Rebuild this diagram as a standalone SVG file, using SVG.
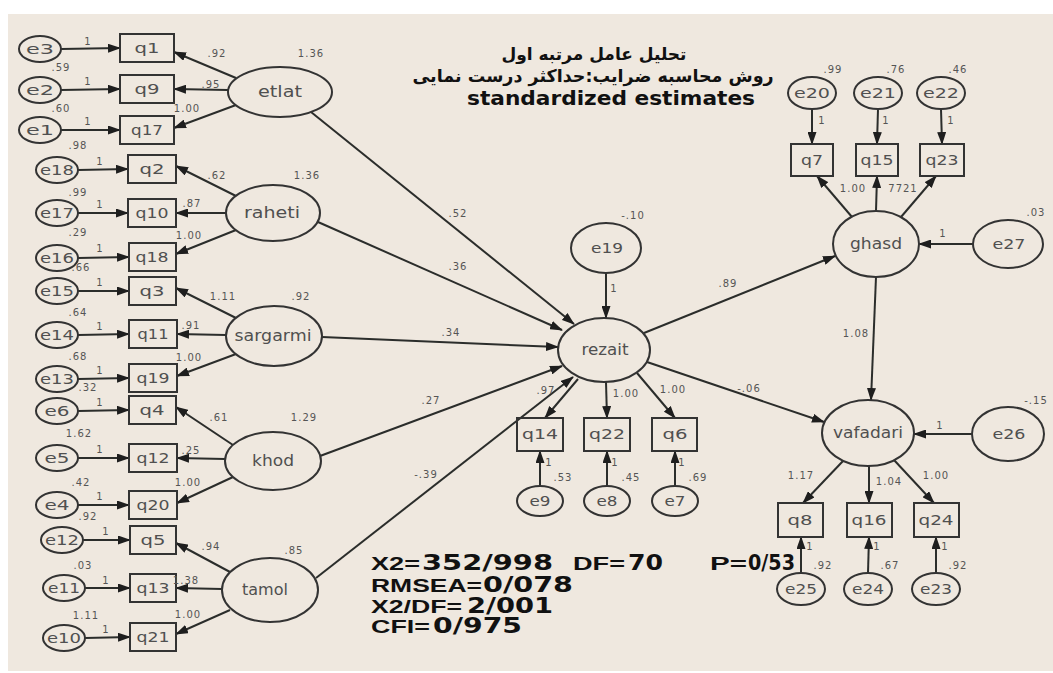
<svg xmlns="http://www.w3.org/2000/svg" width="1053" height="673" viewBox="0 0 1053 673">
<style>
.bg{fill:#efe8df}
.n{fill:none;stroke:#333;stroke-width:2}
.c{fill:none;stroke:#2b2d2b;stroke-width:2;marker-end:url(#a)}
.t{font-family:"DejaVu Sans","Liberation Sans",sans-serif;font-size:14px;fill:#505050;text-anchor:middle}
.lt{font-size:15px}
.l{font-family:"DejaVu Sans","Liberation Sans",sans-serif;font-size:10px;fill:#555;text-anchor:middle;letter-spacing:1px}
.h{font-family:"DejaVu Sans","Liberation Sans",sans-serif;font-weight:bold;fill:#111}
.s{font-family:"Liberation Sans","DejaVu Sans",sans-serif;font-weight:bold;fill:#111;font-size:19px}
.d{font-family:"DejaVu Sans","Liberation Sans",sans-serif;font-weight:bold;fill:#111;font-size:21px}
</style>
<defs>
<marker id="a" markerWidth="13" markerHeight="9" refX="12" refY="4.5" orient="auto" markerUnits="userSpaceOnUse"><path d="M0,0L13,4.5L0,9z" fill="#1e1e1e"/></marker>
</defs>
<rect class="bg" x="8" y="14" width="1045" height="657"/>

<g id="connectors">
<line class="c" x1="61" y1="49" x2="120" y2="48"/>
<line class="c" x1="61" y1="90" x2="120" y2="89"/>
<line class="c" x1="61" y1="130" x2="120" y2="130"/>
<line class="c" x1="78" y1="170" x2="128" y2="169"/>
<line class="c" x1="78" y1="213" x2="128" y2="213"/>
<line class="c" x1="78" y1="258" x2="129" y2="257"/>
<line class="c" x1="78" y1="291" x2="129" y2="291"/>
<line class="c" x1="78" y1="335" x2="129" y2="334"/>
<line class="c" x1="78" y1="379" x2="129" y2="378"/>
<line class="c" x1="78" y1="411" x2="129" y2="410"/>
<line class="c" x1="78" y1="458" x2="129" y2="458"/>
<line class="c" x1="78" y1="505" x2="129" y2="505"/>
<line class="c" x1="83" y1="540" x2="130" y2="540"/>
<line class="c" x1="85" y1="588" x2="130" y2="588"/>
<line class="c" x1="85" y1="638" x2="130" y2="637"/>
<line class="c" x1="236" y1="78" x2="174" y2="52"/>
<line class="c" x1="228" y1="90" x2="174" y2="89"/>
<line class="c" x1="236" y1="105" x2="174" y2="128"/>
<line class="c" x1="236" y1="196" x2="176" y2="166"/>
<line class="c" x1="226" y1="213" x2="176" y2="213"/>
<line class="c" x1="236" y1="230" x2="176" y2="254"/>
<line class="c" x1="236" y1="318" x2="176" y2="288"/>
<line class="c" x1="226" y1="335" x2="177" y2="334"/>
<line class="c" x1="236" y1="354" x2="177" y2="376"/>
<line class="c" x1="233" y1="445" x2="176" y2="407"/>
<line class="c" x1="225" y1="459" x2="177" y2="458"/>
<line class="c" x1="233" y1="477" x2="177" y2="503"/>
<line class="c" x1="230" y1="572" x2="176" y2="543"/>
<line class="c" x1="222" y1="589" x2="176" y2="588"/>
<line class="c" x1="230" y1="610" x2="176" y2="634"/>
<line class="c" x1="311" y1="112" x2="574" y2="324"/>
<line class="c" x1="318" y1="222" x2="562" y2="330"/>
<line class="c" x1="322" y1="337" x2="558" y2="347"/>
<line class="c" x1="320" y1="456" x2="562" y2="366"/>
<line class="c" x1="316" y1="578" x2="573" y2="377"/>
<line class="c" x1="606" y1="273" x2="606" y2="318"/>
<line class="c" x1="578" y1="379" x2="545" y2="418"/>
<line class="c" x1="606" y1="382" x2="607" y2="418"/>
<line class="c" x1="637" y1="373" x2="675" y2="418"/>
<line class="c" x1="540" y1="486" x2="540" y2="451"/>
<line class="c" x1="607" y1="486" x2="607" y2="451"/>
<line class="c" x1="675" y1="486" x2="675" y2="451"/>
<line class="c" x1="644" y1="333" x2="835" y2="256"/>
<line class="c" x1="647" y1="362" x2="824" y2="422"/>
<line class="c" x1="876" y1="277" x2="871" y2="400"/>
<line class="c" x1="973" y1="244" x2="919" y2="244"/>
<line class="c" x1="972" y1="434" x2="914" y2="434"/>
<line class="c" x1="852" y1="217" x2="817" y2="176"/>
<line class="c" x1="876" y1="211" x2="877" y2="176"/>
<line class="c" x1="901" y1="217" x2="936" y2="176"/>
<line class="c" x1="812" y1="109" x2="812" y2="144"/>
<line class="c" x1="878" y1="109" x2="877" y2="144"/>
<line class="c" x1="941" y1="109" x2="942" y2="144"/>
<line class="c" x1="843" y1="461" x2="803" y2="503"/>
<line class="c" x1="869" y1="466" x2="869" y2="503"/>
<line class="c" x1="894" y1="460" x2="934" y2="503"/>
<line class="c" x1="801" y1="573" x2="801" y2="537"/>
<line class="c" x1="868" y1="573" x2="869" y2="537"/>
<line class="c" x1="936" y1="573" x2="936" y2="537"/>
</g>

<g id="e3"><ellipse class="n" cx="40" cy="49" rx="21" ry="13"/><text class="t" x="40" y="54" textLength="28" lengthAdjust="spacingAndGlyphs">e3</text></g>
<g id="e2"><ellipse class="n" cx="40" cy="90" rx="21" ry="13"/><text class="t" x="40" y="95" textLength="28" lengthAdjust="spacingAndGlyphs">e2</text></g>
<g id="e1"><ellipse class="n" cx="40" cy="130" rx="21" ry="13"/><text class="t" x="40" y="135" textLength="28" lengthAdjust="spacingAndGlyphs">e1</text></g>
<g id="e18"><ellipse class="n" cx="57" cy="170" rx="21" ry="13"/><text class="t" x="57" y="175" textLength="34" lengthAdjust="spacingAndGlyphs">e18</text></g>
<g id="e17"><ellipse class="n" cx="57" cy="213" rx="21" ry="13"/><text class="t" x="57" y="218" textLength="34" lengthAdjust="spacingAndGlyphs">e17</text></g>
<g id="e16"><ellipse class="n" cx="57" cy="258" rx="21" ry="13"/><text class="t" x="57" y="263" textLength="34" lengthAdjust="spacingAndGlyphs">e16</text></g>
<g id="e15"><ellipse class="n" cx="57" cy="291" rx="21" ry="13"/><text class="t" x="57" y="296" textLength="34" lengthAdjust="spacingAndGlyphs">e15</text></g>
<g id="e14"><ellipse class="n" cx="57" cy="335" rx="21" ry="13"/><text class="t" x="57" y="340" textLength="34" lengthAdjust="spacingAndGlyphs">e14</text></g>
<g id="e13"><ellipse class="n" cx="57" cy="379" rx="21" ry="13"/><text class="t" x="57" y="384" textLength="34" lengthAdjust="spacingAndGlyphs">e13</text></g>
<g id="e6"><ellipse class="n" cx="57" cy="411" rx="21" ry="13"/><text class="t" x="57" y="416" textLength="25" lengthAdjust="spacingAndGlyphs">e6</text></g>
<g id="e5"><ellipse class="n" cx="57" cy="458" rx="21" ry="13"/><text class="t" x="57" y="463" textLength="25" lengthAdjust="spacingAndGlyphs">e5</text></g>
<g id="e4"><ellipse class="n" cx="57" cy="505" rx="21" ry="13"/><text class="t" x="57" y="510" textLength="25" lengthAdjust="spacingAndGlyphs">e4</text></g>
<g id="e12"><ellipse class="n" cx="62" cy="540" rx="21" ry="13"/><text class="t" x="62" y="545" textLength="34" lengthAdjust="spacingAndGlyphs">e12</text></g>
<g id="e11"><ellipse class="n" cx="64" cy="588" rx="21" ry="13"/><text class="t" x="64" y="593" textLength="32" lengthAdjust="spacingAndGlyphs">e11</text></g>
<g id="e10"><ellipse class="n" cx="64" cy="638" rx="21" ry="13"/><text class="t" x="64" y="643" textLength="34" lengthAdjust="spacingAndGlyphs">e10</text></g>

<g id="q1"><rect class="n" x="120" y="34" width="54" height="28"/><text class="t" x="147" y="53" textLength="25" lengthAdjust="spacingAndGlyphs">q1</text></g>
<g id="q9"><rect class="n" x="120" y="75" width="54" height="28"/><text class="t" x="147" y="94" textLength="25" lengthAdjust="spacingAndGlyphs">q9</text></g>
<g id="q17"><rect class="n" x="120" y="116" width="54" height="28"/><text class="t" x="147" y="135" textLength="32" lengthAdjust="spacingAndGlyphs">q17</text></g>
<g id="q2"><rect class="n" x="128" y="155" width="48" height="28"/><text class="t" x="152" y="174" textLength="25" lengthAdjust="spacingAndGlyphs">q2</text></g>
<g id="q10"><rect class="n" x="128" y="199" width="48" height="28"/><text class="t" x="152" y="218" textLength="33" lengthAdjust="spacingAndGlyphs">q10</text></g>
<g id="q18"><rect class="n" x="129" y="243" width="47" height="28"/><text class="t" x="152" y="262" textLength="33" lengthAdjust="spacingAndGlyphs">q18</text></g>
<g id="q3"><rect class="n" x="129" y="277" width="47" height="28"/><text class="t" x="152" y="296" textLength="25" lengthAdjust="spacingAndGlyphs">q3</text></g>
<g id="q11"><rect class="n" x="129" y="320" width="48" height="28"/><text class="t" x="153" y="339" textLength="31" lengthAdjust="spacingAndGlyphs">q11</text></g>
<g id="q19"><rect class="n" x="129" y="364" width="48" height="28"/><text class="t" x="153" y="383" textLength="33" lengthAdjust="spacingAndGlyphs">q19</text></g>
<g id="q4"><rect class="n" x="129" y="396" width="47" height="28"/><text class="t" x="152" y="415" textLength="25" lengthAdjust="spacingAndGlyphs">q4</text></g>
<g id="q12"><rect class="n" x="129" y="444" width="48" height="28"/><text class="t" x="153" y="463" textLength="33" lengthAdjust="spacingAndGlyphs">q12</text></g>
<g id="q20"><rect class="n" x="129" y="491" width="48" height="28"/><text class="t" x="153" y="510" textLength="33" lengthAdjust="spacingAndGlyphs">q20</text></g>
<g id="q5"><rect class="n" x="130" y="526" width="46" height="28"/><text class="t" x="153" y="545" textLength="25" lengthAdjust="spacingAndGlyphs">q5</text></g>
<g id="q13"><rect class="n" x="130" y="574" width="46" height="28"/><text class="t" x="153" y="593" textLength="33" lengthAdjust="spacingAndGlyphs">q13</text></g>
<g id="q21"><rect class="n" x="130" y="623" width="46" height="28"/><text class="t" x="153" y="642" textLength="33" lengthAdjust="spacingAndGlyphs">q21</text></g>

<g id="etlat"><ellipse class="n" cx="280" cy="92" rx="52" ry="25"/><text class="t lt" x="280" y="97" textLength="44" lengthAdjust="spacingAndGlyphs">etlat</text></g>
<g id="raheti"><ellipse class="n" cx="273" cy="213" rx="47" ry="28"/><text class="t lt" x="272" y="218" textLength="56" lengthAdjust="spacingAndGlyphs">raheti</text></g>
<g id="sargarmi"><ellipse class="n" cx="274" cy="336" rx="48" ry="30"/><text class="t lt" x="273" y="341" textLength="77" lengthAdjust="spacingAndGlyphs">sargarmi</text></g>
<g id="khod"><ellipse class="n" cx="273" cy="461" rx="48" ry="29"/><text class="t lt" x="273" y="466" textLength="42" lengthAdjust="spacingAndGlyphs">khod</text></g>
<g id="tamol"><ellipse class="n" cx="270" cy="590" rx="48" ry="32"/><text class="t lt" x="265" y="595" textLength="46" lengthAdjust="spacingAndGlyphs">tamol</text></g>

<g id="rezait"><ellipse class="n" cx="604" cy="350" rx="46" ry="32"/><text class="t lt" x="605" y="355" textLength="47" lengthAdjust="spacingAndGlyphs">rezait</text></g>
<g id="e19"><ellipse class="n" cx="606" cy="248" rx="35" ry="25"/><text class="t" x="607" y="253" textLength="32" lengthAdjust="spacingAndGlyphs">e19</text></g>
<g id="q14"><rect class="n" x="517" y="418" width="46" height="33"/><text class="t" x="540" y="439" textLength="36" lengthAdjust="spacingAndGlyphs">q14</text></g>
<g id="q22"><rect class="n" x="584" y="418" width="46" height="33"/><text class="t" x="607" y="439" textLength="36" lengthAdjust="spacingAndGlyphs">q22</text></g>
<g id="q6"><rect class="n" x="652" y="418" width="45" height="33"/><text class="t" x="675" y="439" textLength="25" lengthAdjust="spacingAndGlyphs">q6</text></g>
<g id="e9"><ellipse class="n" cx="540" cy="501" rx="23" ry="15"/><text class="t" x="540" y="506" textLength="21" lengthAdjust="spacingAndGlyphs">e9</text></g>
<g id="e8"><ellipse class="n" cx="607" cy="501" rx="23" ry="15"/><text class="t" x="607" y="506" textLength="21" lengthAdjust="spacingAndGlyphs">e8</text></g>
<g id="e7"><ellipse class="n" cx="675" cy="501" rx="23" ry="15"/><text class="t" x="675" y="506" textLength="21" lengthAdjust="spacingAndGlyphs">e7</text></g>

<g id="e20"><ellipse class="n" cx="812" cy="93" rx="24" ry="16"/><text class="t" x="812" y="98" textLength="36" lengthAdjust="spacingAndGlyphs">e20</text></g>
<g id="e21"><ellipse class="n" cx="878" cy="93" rx="24" ry="16"/><text class="t" x="878" y="98" textLength="36" lengthAdjust="spacingAndGlyphs">e21</text></g>
<g id="e22"><ellipse class="n" cx="941" cy="93" rx="24" ry="16"/><text class="t" x="941" y="98" textLength="36" lengthAdjust="spacingAndGlyphs">e22</text></g>
<g id="q7"><rect class="n" x="791" y="144" width="42" height="32"/><text class="t" x="812" y="165" textLength="22" lengthAdjust="spacingAndGlyphs">q7</text></g>
<g id="q15"><rect class="n" x="856" y="144" width="42" height="32"/><text class="t" x="877" y="165" textLength="33" lengthAdjust="spacingAndGlyphs">q15</text></g>
<g id="q23"><rect class="n" x="920" y="144" width="44" height="32"/><text class="t" x="942" y="165" textLength="33" lengthAdjust="spacingAndGlyphs">q23</text></g>
<g id="ghasd"><ellipse class="n" cx="876" cy="244" rx="43" ry="33"/><text class="t lt" x="876" y="249" textLength="52" lengthAdjust="spacingAndGlyphs">ghasd</text></g>
<g id="e27"><ellipse class="n" cx="1008" cy="244" rx="35" ry="24"/><text class="t" x="1009" y="249" textLength="33" lengthAdjust="spacingAndGlyphs">e27</text></g>
<g id="vafadari"><ellipse class="n" cx="868" cy="433" rx="46" ry="33"/><text class="t lt" x="868" y="438" textLength="70" lengthAdjust="spacingAndGlyphs">vafadari</text></g>
<g id="e26"><ellipse class="n" cx="1008" cy="434" rx="36" ry="27"/><text class="t" x="1009" y="439" textLength="33" lengthAdjust="spacingAndGlyphs">e26</text></g>
<g id="q8"><rect class="n" x="778" y="503" width="45" height="34"/><text class="t" x="800" y="525" textLength="25" lengthAdjust="spacingAndGlyphs">q8</text></g>
<g id="q16"><rect class="n" x="847" y="503" width="45" height="34"/><text class="t" x="869" y="525" textLength="35" lengthAdjust="spacingAndGlyphs">q16</text></g>
<g id="q24"><rect class="n" x="914" y="503" width="45" height="34"/><text class="t" x="936" y="525" textLength="35" lengthAdjust="spacingAndGlyphs">q24</text></g>
<g id="e25"><ellipse class="n" cx="801" cy="589" rx="24" ry="16"/><text class="t" x="801" y="594" textLength="32" lengthAdjust="spacingAndGlyphs">e25</text></g>
<g id="e24"><ellipse class="n" cx="868" cy="589" rx="24" ry="16"/><text class="t" x="868" y="594" textLength="32" lengthAdjust="spacingAndGlyphs">e24</text></g>
<g id="e23"><ellipse class="n" cx="936" cy="589" rx="24" ry="16"/><text class="t" x="936" y="594" textLength="32" lengthAdjust="spacingAndGlyphs">e23</text></g>

<g id="labels">
<text class="l" x="88" y="45">1</text>
<text class="l" x="88" y="85">1</text>
<text class="l" x="88" y="125">1</text>
<text class="l" x="100" y="165">1</text>
<text class="l" x="100" y="208">1</text>
<text class="l" x="100" y="252">1</text>
<text class="l" x="100" y="286">1</text>
<text class="l" x="100" y="330">1</text>
<text class="l" x="100" y="374">1</text>
<text class="l" x="100" y="406">1</text>
<text class="l" x="100" y="453">1</text>
<text class="l" x="100" y="500">1</text>
<text class="l" x="106" y="535">1</text>
<text class="l" x="106" y="584">1</text>
<text class="l" x="106" y="633">1</text>
<text class="l" x="61" y="71">.59</text>
<text class="l" x="61" y="112">.60</text>
<text class="l" x="78" y="149">.98</text>
<text class="l" x="78" y="196">.99</text>
<text class="l" x="78" y="236">.29</text>
<text class="l" x="81" y="271">.66</text>
<text class="l" x="78" y="316">.64</text>
<text class="l" x="78" y="360">.68</text>
<text class="l" x="88" y="391">.32</text>
<text class="l" x="79" y="437">1.62</text>
<text class="l" x="81" y="486">.42</text>
<text class="l" x="88" y="520">.92</text>
<text class="l" x="83" y="569">.03</text>
<text class="l" x="86" y="619">1.11</text>
<text class="l" x="217" y="57">.92</text>
<text class="l" x="211" y="88">.95</text>
<text class="l" x="187" y="112">1.00</text>
<text class="l" x="311" y="57">1.36</text>
<text class="l" x="217" y="179">.62</text>
<text class="l" x="192" y="207">.87</text>
<text class="l" x="189" y="239">1.00</text>
<text class="l" x="307" y="179">1.36</text>
<text class="l" x="223" y="300">1.11</text>
<text class="l" x="191" y="329">.91</text>
<text class="l" x="189" y="361">1.00</text>
<text class="l" x="301" y="300">.92</text>
<text class="l" x="219" y="421">.61</text>
<text class="l" x="191" y="454">.25</text>
<text class="l" x="188" y="486">1.00</text>
<text class="l" x="304" y="421">1.29</text>
<text class="l" x="211" y="550">.94</text>
<text class="l" x="186" y="584">1.38</text>
<text class="l" x="188" y="618">1.00</text>
<text class="l" x="294" y="554">.85</text>
<text class="l" x="458" y="217">.52</text>
<text class="l" x="458" y="270">.36</text>
<text class="l" x="451" y="336">.34</text>
<text class="l" x="431" y="404">.27</text>
<text class="l" x="426" y="478">-.39</text>
<text class="l" x="633" y="219">-.10</text>
<text class="l" x="614" y="292">1</text>
<text class="l" x="728" y="287">.89</text>
<text class="l" x="749" y="392">-.06</text>
<text class="l" x="546" y="394">.97</text>
<text class="l" x="626" y="397">1.00</text>
<text class="l" x="673" y="393">1.00</text>
<text class="l" x="549" y="466">1</text>
<text class="l" x="615" y="466">1</text>
<text class="l" x="682" y="466">1</text>
<text class="l" x="563" y="481">.53</text>
<text class="l" x="631" y="481">.45</text>
<text class="l" x="698" y="481">.69</text>
<text class="l" x="833" y="73">.99</text>
<text class="l" x="896" y="73">.76</text>
<text class="l" x="958" y="73">.46</text>
<text class="l" x="822" y="124">1</text>
<text class="l" x="886" y="124">1</text>
<text class="l" x="951" y="124">1</text>
<text class="l" x="853" y="192">1.00</text>
<text class="l" x="903" y="192">7721</text>
<text class="l" x="1036" y="216">.03</text>
<text class="l" x="943" y="237">1</text>
<text class="l" x="856" y="337">1.08</text>
<text class="l" x="1036" y="404">-.15</text>
<text class="l" x="940" y="429">1</text>
<text class="l" x="801" y="479">1.17</text>
<text class="l" x="889" y="485">1.04</text>
<text class="l" x="936" y="479">1.00</text>
<text class="l" x="810" y="550">1</text>
<text class="l" x="877" y="550">1</text>
<text class="l" x="945" y="550">1</text>
<text class="l" x="823" y="569">.92</text>
<text class="l" x="890" y="569">.67</text>
<text class="l" x="958" y="569">.92</text>
</g>

<g id="title">
<text class="h" x="594" y="60" font-size="17" text-anchor="middle">تحلیل عامل مرتبه اول</text>
<text class="h" x="593" y="82" font-size="17.5" text-anchor="middle">روش محاسبه ضرایب:حداکثر درست نمایی</text>
<text class="h" x="467" y="105" font-size="20" textLength="288" lengthAdjust="spacingAndGlyphs">standardized estimates</text>
</g>

<g id="stats">
<text class="s" x="371" y="570" textLength="49" lengthAdjust="spacingAndGlyphs">X2=</text>
<text class="d" x="422" y="570" textLength="131" lengthAdjust="spacingAndGlyphs">352/998</text>
<text class="s" x="573" y="570" textLength="52" lengthAdjust="spacingAndGlyphs">DF=</text>
<text class="d" x="628" y="570" textLength="35" lengthAdjust="spacingAndGlyphs">70</text>
<text class="s" x="710" y="570" textLength="37" lengthAdjust="spacingAndGlyphs">P=</text>
<text class="d" x="748" y="570" textLength="47" lengthAdjust="spacingAndGlyphs">0/53</text>
<text class="s" x="371" y="592" textLength="111" lengthAdjust="spacingAndGlyphs">RMSEA=</text>
<text class="d" x="483" y="592" textLength="90" lengthAdjust="spacingAndGlyphs">0/078</text>
<text class="s" x="371" y="613" textLength="91" lengthAdjust="spacingAndGlyphs">X2/DF=</text>
<text class="d" x="467" y="613" textLength="86" lengthAdjust="spacingAndGlyphs">2/001</text>
<text class="s" x="371" y="633" textLength="59" lengthAdjust="spacingAndGlyphs">CFI=</text>
<text class="d" x="433" y="633" textLength="89" lengthAdjust="spacingAndGlyphs">0/975</text>
</g>
</svg>
